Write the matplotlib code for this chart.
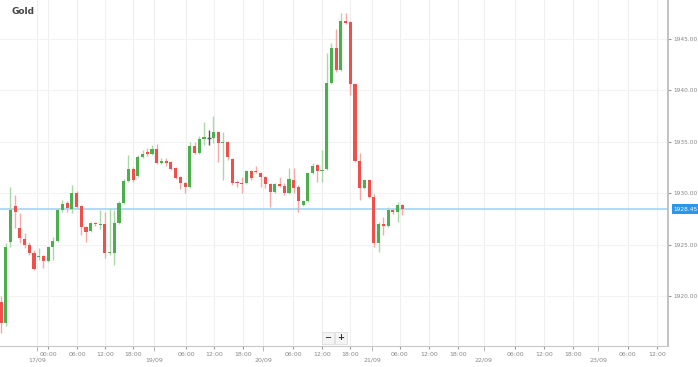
import matplotlib
matplotlib.use("Agg")
import matplotlib.pyplot as plt
from matplotlib.ticker import FixedLocator, FixedFormatter
from matplotlib.patches import Rectangle
import numpy as np

title = "Gold"
opens = [1919.42, 1917.38, 1925.24, 1928.74, 1926.6, 1925.53, 1924.95, 1924.17, 1923.79, 1923.88,
         1923.4, 1924.76, 1925.34, 1928.35, 1929.03, 1928.45, 1930.0, 1928.74, 1926.7, 1926.31,
         1927.09, 1926.89, 1926.99, 1924.17, 1924.17, 1927.09, 1929.03, 1931.17, 1932.33, 1931.65,
         1933.5, 1933.98, 1933.79, 1934.27, 1932.91, 1933.11, 1933.01, 1932.43, 1931.55, 1930.97,
         1930.58, 1934.56, 1933.88, 1935.24, 1935.34, 1935.34, 1935.92, 1934.85, 1934.95, 1933.3,
         1931.07, 1930.97, 1930.97, 1932.14, 1932.14, 1931.94, 1931.55, 1930.87, 1930.1, 1930.87,
         1930.68, 1930.0, 1931.26, 1930.58, 1928.83, 1929.22, 1931.94, 1932.72, 1932.14, 1932.33,
         1940.68, 1944.08, 1941.94, 1946.7, 1946.6, 1940.58, 1933.11, 1930.49, 1931.26, 1929.61,
         1925.15, 1926.99, 1926.8, 1928.35, 1928.16, 1928.83]
highs = [1920.0, 1925.15, 1930.58, 1929.8, 1928.06, 1926.12, 1925.24, 1924.47, 1924.66, 1923.98,
         1924.85, 1925.73, 1928.54, 1929.32, 1929.22, 1930.78, 1930.19, 1928.8, 1926.8, 1927.18,
         1927.18, 1928.35, 1928.16, 1928.54, 1928.35, 1929.22, 1931.36, 1933.69, 1932.52, 1933.69,
         1934.17, 1934.37, 1934.66, 1934.76, 1933.4, 1933.4, 1933.11, 1932.52, 1931.65, 1931.07,
         1934.95, 1934.95, 1935.53, 1936.89, 1936.12, 1937.48, 1936.02, 1935.92, 1935.05, 1933.4,
         1931.26, 1931.55, 1932.23, 1932.23, 1932.62, 1932.04, 1931.65, 1930.97, 1930.97, 1931.55,
         1930.97, 1932.43, 1932.43, 1930.78, 1929.32, 1932.04, 1932.91, 1932.82, 1934.17, 1943.59,
         1944.56, 1945.92, 1947.48, 1947.48, 1946.7, 1940.68, 1933.88, 1931.36, 1931.36, 1929.9,
         1927.18, 1927.67, 1928.64, 1928.45, 1929.13, 1928.93]
lows = [1916.41, 1917.09, 1924.76, 1926.6, 1925.15, 1924.66, 1923.98, 1922.52, 1923.5, 1922.72,
        1923.3, 1923.5, 1925.24, 1928.16, 1928.16, 1928.06, 1928.54, 1925.92, 1925.24, 1926.21,
        1926.8, 1926.5, 1923.69, 1923.98, 1923.01, 1926.99, 1928.93, 1931.07, 1931.07, 1931.55,
        1933.4, 1933.59, 1933.69, 1932.82, 1932.82, 1932.62, 1932.23, 1931.36, 1930.39, 1930.0,
        1930.49, 1933.79, 1933.79, 1934.66, 1934.66, 1934.85, 1933.01, 1931.26, 1933.2, 1930.78,
        1930.58, 1930.0, 1930.87, 1931.26, 1931.94, 1930.58, 1930.49, 1928.64, 1930.0, 1930.58,
        1929.81, 1929.9, 1930.0, 1928.16, 1928.74, 1929.13, 1931.84, 1931.07, 1931.07, 1932.23,
        1940.58, 1941.75, 1941.84, 1946.41, 1939.51, 1933.01, 1929.32, 1930.39, 1929.51, 1924.76,
        1924.27, 1925.92, 1926.7, 1927.96, 1927.18, 1927.86]
closes = [1917.38, 1924.76, 1928.35, 1928.16, 1925.63, 1924.95, 1924.17, 1922.62, 1923.88, 1923.4,
          1924.76, 1925.34, 1928.35, 1928.93, 1928.54, 1930.0, 1928.64, 1926.7, 1926.21, 1927.09,
          1926.99, 1926.99, 1924.17, 1924.27, 1927.09, 1929.03, 1931.17, 1932.33, 1931.26, 1933.5,
          1933.79, 1933.79, 1934.27, 1932.91, 1933.11, 1932.91, 1932.33, 1931.46, 1930.97, 1930.58,
          1934.56, 1933.88, 1935.24, 1935.44, 1935.34, 1935.92, 1934.85, 1934.95, 1933.5, 1930.97,
          1930.97, 1930.87, 1932.14, 1931.46, 1932.04, 1931.55, 1930.87, 1930.1, 1930.87, 1930.68,
          1930.0, 1931.36, 1930.49, 1929.22, 1929.22, 1931.94, 1932.62, 1932.14, 1932.23, 1940.68,
          1944.08, 1941.94, 1946.7, 1946.5, 1940.58, 1933.11, 1930.49, 1931.26, 1929.61, 1925.15,
          1926.99, 1926.8, 1928.35, 1928.16, 1928.83, 1928.45]

y_ticks = [1920, 1925, 1930, 1935, 1940, 1945]
time_labels = ["00:00", "06:00", "12:00", "18:00", "06:00", "12:00", "18:00", "06:00", "12:00",
               "18:00", "06:00", "12:00", "18:00", "06:00", "12:00", "18:00", "06:00", "12:00"]
time_pos = [10, 16.1, 22, 28, 39.2, 45.1, 51.3, 61.9, 68, 73.9, 84.5, 90.7, 96.8, 108.9, 115,
            121.2, 132.8, 139]
date_labels = ["17/09", "19/09", "20/09", "21/09", "22/09", "23/09"]
date_pos = [7.6, 32.4, 55.5, 78.6, 102.3, 126.5]

W, H = 698, 367
fig = plt.figure(figsize=(W / 100, H / 100), dpi=100)
ax = fig.add_axes([0, 1 - 346 / H, 668 / W, 346 / H])

GREEN = "#4cae4c"
RED = "#f0504c"
GREEN_W = "#a9d9a6"
RED_W = "#f5aaa8"

x = np.arange(len(opens))
o = np.array(opens); c = np.array(closes); h = np.array(highs); l = np.array(lows)
up = c > o
down = c < o
flat = c == o
ax.vlines(x[up], l[up], h[up], color=GREEN_W, lw=1, zorder=2)
ax.vlines(x[down], l[down], h[down], color=RED_W, lw=1, zorder=2)
ax.vlines(x[flat], l[flat], h[flat], color="#555555", lw=1, zorder=2)
bh = np.maximum(np.abs(c - o), 0.12)
bb = np.minimum(o, c)
ax.bar(x[up], bh[up], bottom=bb[up], width=0.66, color=GREEN, zorder=3, linewidth=0)
ax.bar(x[down], bh[down], bottom=bb[down], width=0.66, color=RED, zorder=3, linewidth=0)
ax.hlines(o[flat], x[flat] - 0.45, x[flat] + 0.45, color="#555555", lw=1, zorder=3)

last = closes[-1]
ax.axhline(last, color="#a6d4f2", lw=1.2, zorder=1)

ax.set_xlim(-0.21, 141.3)
ax.set_ylim(1915.15, 1948.74)

ax.yaxis.tick_right()
ax.set_yticks(y_ticks)
ax.set_yticklabels([f"{v:.2f}" for v in y_ticks])
ax.tick_params(axis="y", which="major", labelsize=4.2, labelcolor="#888888", length=2,
               color="#999999", pad=2)

ax.xaxis.set_major_locator(FixedLocator(time_pos))
ax.set_xticklabels(time_labels)
ax.xaxis.set_minor_locator(FixedLocator(date_pos))
ax.xaxis.set_minor_formatter(FixedFormatter(date_labels))
ax.tick_params(axis="x", which="major", labelsize=4.5, labelcolor="#888888", length=2,
               color="#999999", pad=2)
ax.tick_params(axis="x", which="minor", labelsize=4.5, labelcolor="#888888", length=3.5,
               color="#aaaaaa", pad=4.5)

for xp in time_pos + date_pos:
    ax.axvline(xp, color="#efefef", lw=0.8, zorder=0)
for yv in y_ticks:
    ax.axhline(yv, color="#f3f3f3", lw=0.8, zorder=0)

for s in ["top", "left"]:
    ax.spines[s].set_visible(False)
ax.spines["right"].set_color("#b8b8b8")
ax.spines["bottom"].set_color("#c8c8c8")
ax.spines["right"].set_linewidth(1.2)

ax.annotate(f"{last:.2f}", xy=(1.0, last), xycoords=("axes fraction", "data"),
            xytext=(4, 0), textcoords="offset points", ha="left", va="center",
            fontsize=4.2, color="white",
            bbox=dict(boxstyle="square,pad=0.35", fc="#2a97ea", ec="none"),
            annotation_clip=False)

fig.text(12 / W, 1 - 12 / H, title, fontsize=6.5, fontweight="bold", color="#444444",
         ha="left", va="center")

for i, sym in enumerate(["\u2212", "+"]):
    x0 = (322 + i * 13) / W
    y0 = 1 - 344 / H
    fig.patches.append(Rectangle((x0, y0), 12 / W, 12 / H, transform=fig.transFigure,
                                 fc="#f4f4f4", ec="#dddddd", lw=0.6, zorder=5))
    fig.text(x0 + 6 / W, y0 + 6 / H, sym, fontsize=6, color="#333333", ha="center",
             va="center", fontweight="bold", zorder=6)

fig.savefig("out.png", dpi=100, facecolor="white")
